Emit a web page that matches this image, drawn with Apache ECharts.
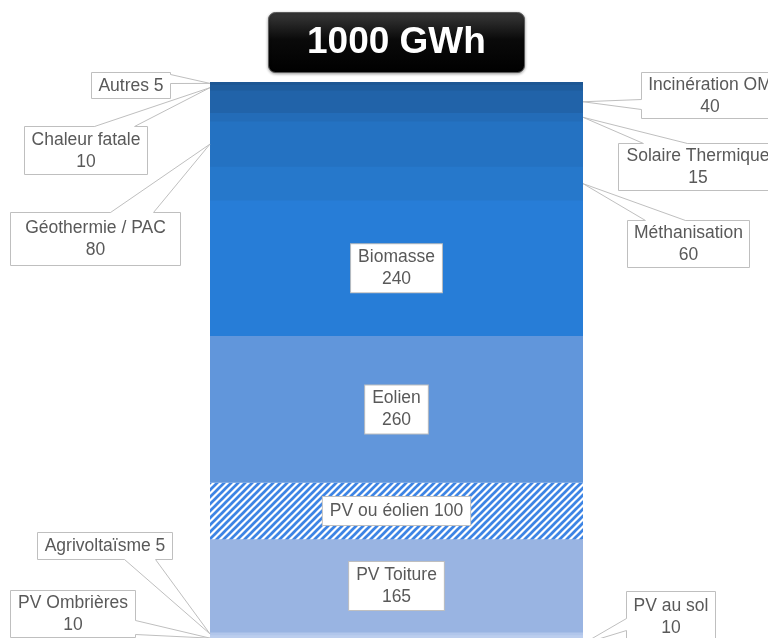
<!DOCTYPE html>
<html><head><meta charset="utf-8">
<script src="https://cdn.jsdelivr.net/npm/echarts@6/dist/echarts.min.js"></script>
<style>html,body{margin:0;padding:0;background:#fff}#c{width:768px;height:638px}</style>
</head><body><div id="c"></div>
<script>
// ---- data (stack order: bottom -> top) ----
const categories = ['PV au sol','PV Ombrières','Agrivoltaïsme','PV Toiture','PV ou éolien','Eolien','Biomasse','Méthanisation','Géothermie / PAC','Solaire Thermique','Incinération OM','Chaleur fatale','Autres'];
const values = [10, 10, 5, 165, 100, 260, 240, 60, 80, 15, 40, 10, 5];
const unit = 'GWh';
const oneLineLabels = ['Autres','Agrivoltaïsme','PV ou éolien'];
const insideLabels = ['PV Toiture','PV ou éolien','Eolien','Biomasse'];

// ---- styles ----
const FONT = '"Liberation Sans", Arial, sans-serif';
const segColors = {
  'PV au sol':'#C6D6F1','PV Ombrières':'#BCCEEE','Agrivoltaïsme':'#B1C6EB','PV Toiture':'#99B4E2',
  'PV ou éolien':'hatch','Eolien':'#6196DB','Biomasse':'#277DD7','Méthanisation':'#2678CB',
  'Géothermie / PAC':'#2472C2','Solaire Thermique':'#236CB8','Incinération OM':'#2163A9',
  'Chaleur fatale':'#1F5C9C','Autres':'#1D5693'
};
// the chart is cropped at the bottom: visible value range of the axis (view window)
const AXIS_VIEW_MIN = 15.23, AXIS_VIEW_MAX = 1000;
// callout layout (label boxes and wedge bases, pixels)
const callouts = {
  'Autres':           {side:'left',  box:[91,72,79,26],   base:[[170,74],[170,83]]},
  'Chaleur fatale':   {side:'left',  box:[24,126,123,48], base:[[94,126],[134,126]]},
  'Géothermie / PAC': {side:'left',  box:[10,212,170,53], base:[[110,212],[153,212]]},
  'Agrivoltaïsme':    {side:'left',  box:[37,532,135,27], base:[[124,559],[155,559]]},
  'PV Ombrières':     {side:'left',  box:[10,590,125,47], base:[[135,620],[135,634]]},
  'Incinération OM':  {side:'right', box:[641,72,137,46], base:[[641,99],[641,109]]},
  'Solaire Thermique':{side:'right', box:[618,143,159,47],base:[[643,143],[687,143]]},
  'Méthanisation':    {side:'right', box:[627,220,122,47],base:[[645,220],[685,220]]},
  'PV au sol':        {side:'right', box:[626,591,89,50], base:[[626,618],[626,630]]}
};

function labelText(name, v){
  return oneLineLabels.indexOf(name) >= 0 ? name + ' ' + v : name + '\n' + v;
}

function hatchPattern(){
  const p = 7, c = document.createElement('canvas');
  c.width = p; c.height = p;
  const g = c.getContext('2d');
  g.fillStyle = '#fff'; g.fillRect(0,0,p,p);
  g.strokeStyle = '#3D84E4'; g.lineWidth = 2.7;
  g.beginPath(); g.moveTo(0,p); g.lineTo(p,0); g.stroke();
  g.beginPath(); g.moveTo(-1,1); g.lineTo(1,-1); g.stroke();
  g.beginPath(); g.moveTo(p-1,p+1); g.lineTo(p+1,p-1); g.stroke();
  return {image: c, repeat: 'repeat'};
}
const hatch = hatchPattern();

// cumulative midpoints (from data)
const mids = [];
let acc = 0;
values.forEach(function(v){ mids.push(acc + v/2); acc += v; });
const total = acc;

const barSeries = categories.map(function(name, i){
  const inside = insideLabels.indexOf(name) >= 0;
  const isHatch = segColors[name] === 'hatch';
  const isTop = i === categories.length - 1;
  const style = {color: isHatch ? hatch : segColors[name]};
  if (!isHatch && !isTop) {
    // solid copy shifted up 1px so adjacent segments meet without a light seam
    style.shadowColor = segColors[name];
    style.shadowBlur = 0;
    style.shadowOffsetY = -1;
  }
  return {
    type:'bar', name: name, stack:'total', barWidth:'100%', z:2, clip:false,
    data:[values[i]],
    itemStyle: style,
    label:{
      show: inside, position:'inside',
      formatter: function(){ return labelText(name, values[i]); },
      backgroundColor:'#fff', borderColor:'#BFBFBF', borderWidth:1,
      shadowColor:'transparent', shadowBlur:0, shadowOffsetY:0,
      padding: oneLineLabels.indexOf(name) >= 0 ? [3,7,3,7] : [2,7,2,7],
      color:'#595959', fontFamily:FONT, fontSize:17.5, lineHeight:22
    },
    emphasis:{disabled:true},
    silent:true, animation:false
  };
});

const calloutData = [];
categories.forEach(function(name, i){
  if (callouts[name]) calloutData.push([0, mids[i], i]);
});

function inset(pt, box){
  const x=box[0], y=box[1], w=box[2], h=box[3], d=1.6;
  if (Math.abs(pt[0]-x) < 1) return [pt[0]+d, pt[1]];
  if (Math.abs(pt[0]-(x+w)) < 1) return [pt[0]-d, pt[1]];
  if (Math.abs(pt[1]-y) < 1) return [pt[0], pt[1]+d];
  return [pt[0], pt[1]-d];
}

const calloutSeries = {
  type:'custom', z:5, silent:true, animation:false, clip:false,
  data: calloutData,
  renderItem: function(params, api){
    const idx = api.value(2);
    const name = categories[idx];
    const c = callouts[name];
    const p = api.coord([api.value(0), api.value(1)]);
    const half = api.size([1,0])[0]/2;
    const ax = c.side === 'left' ? p[0]-half : p[0]+half;
    const ay = p[1];
    const b = c.box;
    const b0 = [c.base[0][0]+0.5, c.base[0][1]+0.5], b1 = [c.base[1][0]+0.5, c.base[1][1]+0.5];
    const bb = [b[0]+0.5, b[1]+0.5, b[2], b[3]];
    return {type:'group', children:[
      {type:'rect', shape:{x:bb[0], y:bb[1], width:b[2], height:b[3]},
        style:{fill:'#fff', stroke:'#BFBFBF', lineWidth:1}},
      {type:'polygon', shape:{points:[[ax,ay], b0, inset(b0,bb), inset(b1,bb), b1]},
        style:{fill:'#fff', stroke:null}},
      {type:'polyline', shape:{points:[b0,[ax,ay],b1]},
        style:{fill:null, stroke:'#BFBFBF', lineWidth:1}},
      {type:'text', style:{text: labelText(name, values[idx]), x: b[0]+b[2]/2+0.5, y: b[1]+b[3]/2+1,
        align:'center', verticalAlign:'middle', fill:'#595959', font:'17.5px ' + FONT, lineHeight:22}}
    ]};
  }
};

const chart = echarts.init(document.getElementById('c'), null, {renderer:'canvas'});
chart.setOption({
  animation:false,
  backgroundColor:'#fff',
  title:{
    text: total + ' ' + unit,
    left:268, top:12,
    padding:[10,39,10,39],
    backgroundColor:{type:'linear', x:0, y:0, x2:0, y2:1, colorStops:[
      {offset:0, color:'#3a3a3a'},{offset:0.45, color:'#0a0a0a'},{offset:1, color:'#000'}]},
    borderColor:'#5a5a5a', borderWidth:1, borderRadius:7,
    shadowColor:'rgba(0,0,0,0.35)', shadowBlur:3, shadowOffsetY:1,
    textStyle:{color:'#fff', fontSize:37, fontWeight:'bold', fontFamily:FONT, lineHeight:41}
  },
  grid:{left:210, top:82, width:373, bottom:0, containLabel:false},
  xAxis:{type:'category', data:['total'], show:false},
  yAxis:{type:'value', min:AXIS_VIEW_MIN, max:AXIS_VIEW_MAX, show:false},
  series: barSeries.concat([calloutSeries])
});
</script>
</body></html>
